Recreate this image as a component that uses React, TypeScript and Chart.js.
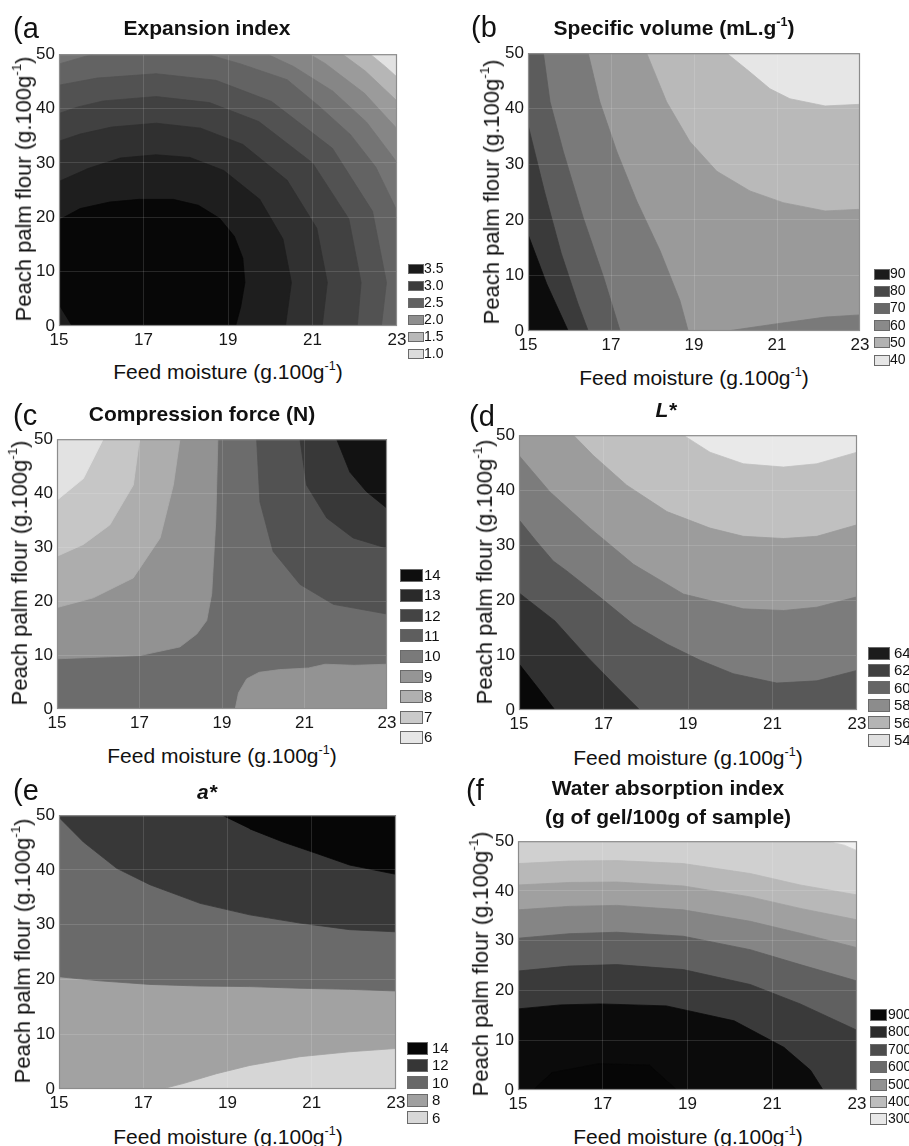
import React, { useEffect, useRef } from "react";
import { Chart, registerables } from "chart.js";
Chart.register(...registerables);

type Pt = [number, number];

// ---------- shared axes ----------
const moistureRange: Pt = [15, 23];
const flourRange: Pt = [0, 50];
const moistureTicks = [15, 17, 19, 21, 23];
const flourTicks = [0, 10, 20, 30, 40, 50];

// ---------- (a) Expansion index : contour regions, outer -> inner ----------
const expansionLegendLabels = ["3.5", "3.0", "2.5", "2.0", "1.5", "1.0"];
const expansionLegendColors = ["#1a1a1a", "#3c3c3c", "#626262", "#8e8e8e", "#b8b8b8", "#dcdcdc"];
const expansionBandColors = ["#e2e2e2", "#b6b6b6", "#9b9b9b", "#868686", "#747474", "#636363", "#525252", "#414141", "#303030", "#1e1e1e", "#070707"];
const expansionC10: Pt[] = [[15, 0], [15, 50], [22.37, 50], [22.73, 47.7], [23, 45.8], [23, 0]];
const expansionC9: Pt[] = [[15, 0], [15, 50], [21.71, 50], [22.25, 46.9], [23, 41.4], [23, 0]];
const expansionC8: Pt[] = [[15, 0], [15, 50], [20.93, 50], [21.3, 48.3], [22.23, 42.8], [23, 36.3], [23, 0]];
const expansionC7: Pt[] = [[15, 0], [15, 50], [19.93, 50], [20.55, 47.75], [21.48, 43.2], [22.28, 37.5], [23, 30.1], [23, 0]];
const expansionC6: Pt[] = [[15, 0], [15, 48.2], [15.8, 50], [18.5, 50], [19.3, 48.2], [20.4, 45.3], [21.16, 40.4], [21.9, 35.2], [22.5, 29.2], [23, 21.2], [23, 0]];
const expansionC5: Pt[] = [[15, 0], [15, 44.3], [15.9, 45.6], [17.3, 46.4], [18.71, 45.2], [20.03, 41.3], [21.47, 32.7], [22.42, 21.1], [22.75, 8], [22.63, 0]];
const expansionC4: Pt[] = [[15, 0], [15, 39.1], [15.45, 40.3], [16.05, 41.4], [17.3, 42.2], [18.56, 41.1], [19.73, 37.6], [21.0, 30], [21.86, 19.7], [22.15, 8], [22.06, 0]];
const expansionC3: Pt[] = [[15, 0], [15, 34], [15.5, 35.3], [16.25, 36.6], [17.3, 37.3], [18.35, 36.4], [19.35, 33.4], [20.4, 26.8], [21.1, 18], [21.35, 8], [21.23, 0]];
const expansionC2: Pt[] = [[15, 0], [15, 26.6], [15.7, 29], [16.45, 30.9], [17.3, 31.5], [18.1, 31.0], [18.9, 28.6], [19.75, 23.3], [20.3, 16], [20.5, 8], [20.36, 0]];
const expansionC1: Pt[] = [[15, 3.8], [15, 19.5], [15.5, 21.6], [16.2, 22.8], [16.9, 23.3], [17.7, 23.3], [18.3, 22.2], [18.8, 19.8], [19.15, 16.5], [19.35, 12.5], [19.4, 8], [19.3, 3.5], [19.18, 0], [15.3, 0]];

// ---------- (b) Specific volume ----------
const volumeLegendLabels = ["90", "80", "70", "60", "50", "40"];
const volumeLegendColors = ["#1c1c1c", "#484848", "#686868", "#8a8a8a", "#b2b2b2", "#e6e6e6"];
const volumeBandColors = ["#e6e6e6", "#b9b9b9", "#9a9a9a", "#7a7a7a", "#7a7a7a", "#5c5c5c", "#3a3a3a", "#0c0c0c"];
const volume40: Pt[] = [[15, 0], [15, 50], [19.79, 50], [20.35, 46.6], [20.83, 43.6], [21.31, 41.8], [22.16, 40.5], [23, 40.8], [23, 0]];
const volume50: Pt[] = [[15, 0], [15, 50], [17.86, 50], [18.34, 41.25], [18.9, 34.1], [19.55, 28.75], [20.35, 25.2], [21.15, 23.1], [22.16, 21.6], [23, 21.9], [23, 0]];
const volume60a: Pt[] = [[15, 0], [15, 50], [16.45, 50], [16.73, 41.25], [17.14, 32.3], [17.62, 23.4], [18.18, 14.5], [18.66, 5.5], [18.86, 0]];
const volume60b: Pt[] = [[19.8, 0], [21, 1.3], [22.16, 2.5], [23, 2.9], [23, 0]];
const volume70: Pt[] = [[15, 0], [15, 50], [15.37, 50], [15.53, 41.25], [15.85, 32.3], [16.33, 20.4], [16.82, 9.7], [17.22, 0]];
const volume80: Pt[] = [[15, 0], [15, 37.1], [15.4, 25], [15.8, 14], [16.2, 5], [16.45, 0]];
const volume90: Pt[] = [[15, 0], [15, 17.4], [15.45, 8.5], [15.97, 0]];

// ---------- (c) Compression force ----------
const forceLegendLabels = ["14", "13", "12", "11", "10", "9", "8", "7", "6"];
const forceLegendColors = ["#0e0e0e", "#2a2a2a", "#444444", "#5e5e5e", "#7a7a7a", "#959595", "#b0b0b0", "#cacaca", "#e6e6e6"];
const forceBandColors = ["#6c6c6c", "#939393", "#929292", "#adadad", "#c6c6c6", "#e2e2e2", "#525252", "#383838", "#121212"];
const forceLowRight: Pt[] = [[19.32, 0], [19.4, 3], [19.6, 5.6], [19.9, 6.8], [20.4, 7.3], [21.1, 7.6], [21.5, 8.3], [22.2, 8.1], [23, 8.3], [23, 0]];
const force9: Pt[] = [[15, 9.3], [17.01, 9.9], [17.98, 11.5], [18.39, 13.9], [18.63, 16.4], [18.75, 21.3], [18.85, 35], [18.9, 50], [15, 50]];
const force8: Pt[] = [[15, 18.8], [15.88, 20.6], [16.85, 24.3], [17.5, 31.7], [17.82, 41.5], [17.98, 50], [15, 50]];
const force7: Pt[] = [[15, 28.3], [15.64, 30.5], [16.28, 34.1], [16.85, 41.5], [17.0, 50], [15, 50]];
const force6: Pt[] = [[15, 38.7], [15.64, 42.7], [16.12, 50], [15, 50]];
const force12: Pt[] = [[19.84, 50], [19.92, 38.4], [20.24, 29.2], [20.89, 23.1], [21.7, 19.4], [23, 17.6], [23, 50]];
const force13: Pt[] = [[20.89, 50], [21.05, 41.5], [21.54, 35.4], [22.18, 31.7], [23, 29.8], [23, 50]];
const force14: Pt[] = [[21.78, 50], [22.1, 43.9], [22.5, 40.3], [23, 37.2], [23, 50]];

// ---------- (d) L* ----------
const lightLegendLabels = ["64", "62", "60", "58", "56", "54"];
const lightLegendColors = ["#1c1c1c", "#404040", "#666666", "#8c8c8c", "#b4b4b4", "#e0e0e0"];
const lightBandColors = ["#e9e9e9", "#c0c0c0", "#9c9c9c", "#7c7c7c", "#585858", "#303030", "#080808"];
const light54: Pt[] = [[15, 0], [15, 50], [18.89, 50], [19.52, 46.9], [20.31, 44.8], [21.26, 44.2], [22.05, 44.8], [23, 46.9], [23, 0]];
const light56: Pt[] = [[15, 0], [15, 50], [16.29, 50], [16.76, 46.3], [17.55, 40.9], [18.5, 36.1], [19.52, 33.1], [20.31, 31.6], [21.26, 31.2], [22.05, 31.6], [23, 33.7], [23, 0]];
const light58: Pt[] = [[15, 0], [15, 46.3], [15.73, 39.7], [16.68, 33.1], [17.71, 26.5], [18.89, 21.1], [20.31, 18.4], [21.26, 18.1], [22.05, 18.7], [23, 20.6], [23, 0]];
const light60: Pt[] = [[15, 0], [15, 34.6], [15.4, 30.8], [15.81, 27.1], [16.13, 25.3], [16.92, 20.5], [17.7, 15.6], [18.5, 12], [19.3, 9], [20.07, 6.6], [21.1, 4.9], [22.05, 5.3], [23, 7.2], [23, 0]];
const light62: Pt[] = [[15, 0], [15, 21.3], [15.85, 16.2], [16.6, 9.8], [17.31, 4.2], [17.86, 0]];
const light64: Pt[] = [[15, 0], [15, 8.4], [15.45, 4], [15.85, 0]];

// ---------- (e) a* ----------
const redLegendLabels = ["14", "12", "10", "8", "6"];
const redLegendColors = ["#060606", "#363636", "#686868", "#a0a0a0", "#d8d8d8"];
const redBandColors = ["#d6d6d6", "#a2a2a2", "#6a6a6a", "#383838", "#060606"];
const red8: Pt[] = [[15, 0], [15, 50], [23, 50], [23, 7.4], [21.9, 6.8], [20.72, 5.9], [19.53, 4.3], [18.74, 2.8], [17.95, 1.0], [17.44, 0]];
const red10: Pt[] = [[15, 50], [23, 50], [23, 17.9], [21.9, 18.2], [20.72, 18.4], [19.53, 18.7], [18.35, 18.8], [17.16, 19.1], [15.97, 19.75], [15, 20.5]];
const red12: Pt[] = [[15, 50], [23, 50], [23, 28.7], [21.9, 29.1], [20.72, 30.3], [19.53, 31.8], [18.35, 33.9], [17.16, 37.3], [16.37, 40.3], [15.58, 45.1], [15, 49.6]];
const red14: Pt[] = [[18.86, 50], [23, 50], [23, 39.2], [21.9, 40.9], [21.12, 43.0], [20.32, 45.1], [19.53, 47.5]];

// ---------- (f) Water absorption index ----------
const waiLegendLabels = ["900", "800", "700", "600", "500", "400", "300"];
const waiLegendColors = ["#080808", "#2c2c2c", "#4c4c4c", "#6c6c6c", "#929292", "#bdbdbd", "#e8e8e8"];
const waiBandColors = ["#f0f0f0", "#d0d0d0", "#b8b8b8", "#a0a0a0", "#858585", "#606060", "#3a3a3a", "#0b0b0b", "#060606"];
const wai1: Pt[] = [[15, 0], [15, 50], [22.29, 50], [22.7, 49.2], [23, 48.1], [23, 0]];
const wai2: Pt[] = [[15, 0], [15, 45.5], [16.2, 46.0], [17.33, 46.1], [18.9, 45.5], [20.48, 43.5], [21.66, 41.2], [23, 39.2], [23, 0]];
const wai3: Pt[] = [[15, 0], [15, 41.2], [16.2, 41.7], [17.33, 41.8], [18.9, 41.0], [20.48, 38.8], [21.66, 36.5], [23, 34.2], [23, 0]];
const wai4: Pt[] = [[15, 0], [15, 36.2], [16.2, 36.9], [17.33, 37.1], [18.9, 36.2], [20.48, 33.9], [21.66, 31.5], [23, 28.6], [23, 0]];
const wai5: Pt[] = [[15, 0], [15, 30.5], [16.2, 31.4], [17.33, 31.7], [18.9, 30.9], [20.48, 28.2], [21.66, 25.2], [23, 21.9], [23, 0]];
const wai6: Pt[] = [[15, 0], [15, 23.9], [16.2, 24.9], [17.33, 25.2], [18.9, 24.2], [20.48, 21.2], [21.66, 17.3], [23, 12.0], [23, 0]];
const wai7: Pt[] = [[15, 0], [15, 16.3], [16.0, 17.1], [16.94, 17.3], [18.5, 16.9], [20.1, 13.9], [21.27, 8.6], [21.9, 4.0], [22.2, 0]];
const wai8: Pt[] = [[15.36, 0], [15.8, 3.5], [16.9, 5.3], [18.1, 5.0], [18.75, 0]];

// ---------- helpers ----------
const framePoly = (): Pt[] => [
  [moistureRange[0], flourRange[0]],
  [moistureRange[0], flourRange[1]],
  [moistureRange[1], flourRange[1]],
  [moistureRange[1], flourRange[0]],
];

type Layer = { poly: Pt[]; color: string };
const zipLayers = (polys: Pt[][], colors: string[]): Layer[] => polys.map((p, i) => ({ poly: p, color: colors[i] }));

const expansionLayers = zipLayers(
  [framePoly(), expansionC10, expansionC9, expansionC8, expansionC7, expansionC6, expansionC5, expansionC4, expansionC3, expansionC2, expansionC1],
  expansionBandColors
);
const volumeLayers = zipLayers([framePoly(), volume40, volume50, volume60a, volume60b, volume70, volume80, volume90], volumeBandColors);
const forceLayers = zipLayers([framePoly(), forceLowRight, force9, force8, force7, force6, force12, force13, force14], forceBandColors);
const lightLayers = zipLayers([framePoly(), light54, light56, light58, light60, light62, light64], lightBandColors);
const redLayers = zipLayers([framePoly(), red8, red10, red12, red14], redBandColors);
const waiLayers = zipLayers([framePoly(), wai1, wai2, wai3, wai4, wai5, wai6, wai7, wai8], waiBandColors);

const FONT = "'Liberation Sans', Arial, Helvetica, sans-serif";
const YW = 44, XH = 28, PT = 12, PR = 16;

const framePlugin = {
  id: "frame",
  afterDraw(chart: any) {
    const { ctx, chartArea: a } = chart;
    ctx.save();
    ctx.strokeStyle = "#8c8c8c";
    ctx.lineWidth = 1.2;
    ctx.strokeRect(a.left + 0.5, a.top + 0.5, a.right - a.left - 1, a.bottom - a.top - 1);
    ctx.restore();
  },
};

type PlotRect = [number, number, number, number];

function ContourChart({ plot, layers }: { plot: PlotRect; layers: Layer[] }) {
  const ref = useRef<HTMLCanvasElement>(null);
  const [L, T, R, B] = plot;
  const left = L - YW, top = T - PT;
  const w = R + PR - left, h = B + XH - top;
  useEffect(() => {
    if (!ref.current) return;
    const chart = new Chart(ref.current, {
      type: "line",
      data: {
        datasets: layers.map((l, i) => ({
          data: l.poly.map(([x, y]) => ({ x, y })),
          backgroundColor: l.color,
          borderColor: l.color,
          borderWidth: 0.8,
          pointRadius: 0,
          fill: "shape",
          tension: 0,
          order: layers.length - i,
        })),
      },
      options: {
        animation: false,
        responsive: false,
        maintainAspectRatio: false,
        events: [],
        layout: { padding: { top: PT, right: PR, left: 0, bottom: 0 } },
        plugins: { legend: { display: false }, tooltip: { enabled: false }, title: { display: false } },
        scales: {
          x: {
            type: "linear",
            min: moistureRange[0],
            max: moistureRange[1],
            afterFit: (s: any) => { s.height = XH; },
            afterBuildTicks: (s: any) => { s.ticks = moistureTicks.map((v) => ({ value: v })); },
            ticks: { padding: 4, color: "#161616", font: { family: FONT, size: 17 } },
            grid: { drawTicks: false, color: "rgba(255,255,255,0.13)", lineWidth: 1, z: 1 },
            border: { display: false },
          },
          y: {
            type: "linear",
            min: flourRange[0],
            max: flourRange[1],
            afterFit: (s: any) => { s.width = YW; },
            afterBuildTicks: (s: any) => { s.ticks = flourTicks.map((v) => ({ value: v })); },
            ticks: { padding: 4, color: "#161616", font: { family: FONT, size: 17 } },
            grid: { drawTicks: false, color: "rgba(255,255,255,0.13)", lineWidth: 1, z: 1 },
            border: { display: false },
          },
        },
      } as any,
      plugins: [framePlugin],
    });
    return () => chart.destroy();
  }, []);
  return (
    <canvas
      ref={ref}
      width={w}
      height={h}
      style={{ position: "absolute", left, top, width: w, height: h }}
    />
  );
}

const Sup = () => (
  <sup style={{ fontSize: "0.6em", verticalAlign: "0.75em", lineHeight: 0 }}>-1</sup>
);

function Txt({ x, y, size, bold, italic, rotate, children, anchor, lh }: any) {
  const tx = anchor === "left" ? "0" : "-50%";
  return (
    <div
      style={{
        position: "absolute",
        left: x,
        top: y,
        transform: `translate(${tx},-50%)${rotate ? " rotate(-90deg)" : ""}`,
        fontFamily: FONT,
        fontSize: size,
        fontWeight: bold ? 700 : 400,
        fontStyle: italic ? "italic" : "normal",
        whiteSpace: "nowrap",
        lineHeight: lh || 1.1,
        color: "#111",
        textAlign: "center",
      }}
    >
      {children}
    </div>
  );
}

function Legend({ labels, colors, boxX, boxW, boxH, labelX, y0, step, size }: any) {
  return (
    <>
      {labels.map((lab: string, i: number) => {
        const cy = y0 + i * step;
        return (
          <React.Fragment key={lab}>
            <div
              style={{
                position: "absolute",
                left: boxX,
                top: cy - boxH / 2,
                width: boxW,
                height: boxH,
                background: colors[i],
                border: "1px solid #6a6a6a",
                boxSizing: "border-box",
              }}
            />
            <Txt x={labelX} y={cy} size={size} anchor="left">{lab}</Txt>
          </React.Fragment>
        );
      })}
    </>
  );
}

type PanelSpec = {
  letter: string; letterPos: Pt; plot: PlotRect; layers: Layer[];
  title: React.ReactNode; titlePos: Pt; titleItalic?: boolean; titleLh?: number;
  yTitlePos: Pt; xTitlePos: Pt; legend: any;
};

const panels: PanelSpec[] = [
  {
    letter: "(a", letterPos: [13, 29], plot: [59, 52, 397, 326], layers: expansionLayers,
    title: "Expansion index", titlePos: [207, 28], yTitlePos: [24, 189], xTitlePos: [228, 372],
    legend: { labels: expansionLegendLabels, colors: expansionLegendColors, boxX: 408, boxW: 16, boxH: 10, labelX: 424, y0: 269, step: 17, size: 14 },
  },
  {
    letter: "(b", letterPos: [471, 28], plot: [528, 51, 860, 331], layers: volumeLayers,
    title: <>Specific volume (mL.g<Sup />)</>, titlePos: [674, 28], yTitlePos: [492, 192], xTitlePos: [694, 378],
    legend: { labels: volumeLegendLabels, colors: volumeLegendColors, boxX: 874, boxW: 16, boxH: 11, labelX: 890, y0: 274, step: 17.2, size: 14 },
  },
  {
    letter: "(c", letterPos: [13, 416], plot: [57, 437, 387, 709], layers: forceLayers,
    title: "Compression force (N)", titlePos: [202, 414], yTitlePos: [20, 573], xTitlePos: [222, 756],
    legend: { labels: forceLegendLabels, colors: forceLegendColors, boxX: 400, boxW: 23, boxH: 13, labelX: 424, y0: 575, step: 20.3, size: 15 },
  },
  {
    letter: "(d", letterPos: [469, 417], plot: [519, 433, 857, 710], layers: lightLayers,
    title: "L*", titleItalic: true, titlePos: [666, 410], yTitlePos: [485, 572], xTitlePos: [688, 758],
    legend: { labels: lightLegendLabels, colors: lightLegendColors, boxX: 868, boxW: 22, boxH: 13, labelX: 894, y0: 653, step: 17.4, size: 15 },
  },
  {
    letter: "(e", letterPos: [13, 791], plot: [59, 813, 396, 1089], layers: redLayers,
    title: "a*", titleItalic: true, titlePos: [207, 792], yTitlePos: [23, 951], xTitlePos: [228, 1137],
    legend: { labels: redLegendLabels, colors: redLegendColors, boxX: 407, boxW: 21, boxH: 13, labelX: 432, y0: 1048, step: 17.4, size: 15 },
  },
  {
    letter: "(f", letterPos: [466, 791], plot: [518, 839, 857, 1090], layers: waiLayers,
    title: <>Water absorption index<br />(g of gel/100g of sample)</>, titleLh: 1.38, titlePos: [668, 803], yTitlePos: [481, 964], xTitlePos: [688, 1137],
    legend: { labels: waiLegendLabels, colors: waiLegendColors, boxX: 870, boxW: 17, boxH: 12, labelX: 888, y0: 1015, step: 17.4, size: 14 },
  },
];

export default function App() {
  useEffect(() => {
    document.body.style.margin = "0";
    document.body.style.background = "#ffffff";
  }, []);
  return (
    <div style={{ position: "relative", width: 909, height: 1146, overflow: "hidden", background: "#fff" }}>
      {panels.map((p) => (
        <React.Fragment key={p.letter}>
          <ContourChart plot={p.plot} layers={p.layers} />
          <Txt x={p.letterPos[0]} y={p.letterPos[1]} size={29} anchor="left">{p.letter}</Txt>
          <Txt x={p.titlePos[0]} y={p.titlePos[1]} size={21} bold italic={p.titleItalic} lh={p.titleLh}>{p.title}</Txt>
          <Txt x={p.yTitlePos[0]} y={p.yTitlePos[1]} size={22} rotate>
            Peach palm flour (g.100g<Sup />)
          </Txt>
          <Txt x={p.xTitlePos[0]} y={p.xTitlePos[1]} size={21}>
            Feed moisture (g.100g<Sup />)
          </Txt>
          <Legend {...p.legend} />
        </React.Fragment>
      ))}
    </div>
  );
}
